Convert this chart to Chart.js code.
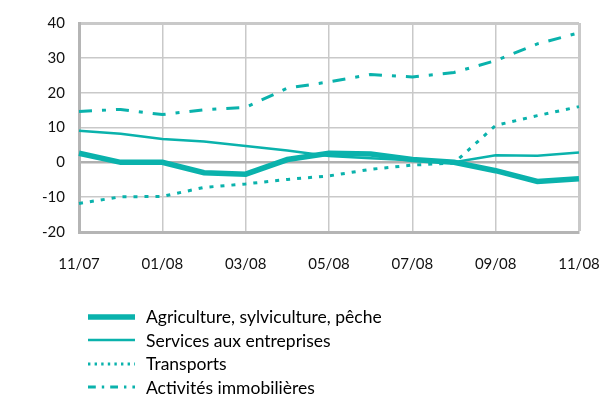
<!DOCTYPE html>
<html>
<head>
<meta charset="utf-8">
<script src="https://cdn.jsdelivr.net/npm/chart.js@4"></script>
<style>
  body { margin: 0; background: #fff; }
  #wrap { position: relative; width: 601px; height: 396px; }
  #legend { position: absolute; left: 88px; top: 305px; font-family: Lato, "DejaVu Sans", sans-serif; font-size: 17.5px; color: #000; }
  .item { height: 23.5px; display: flex; align-items: center; }
  .item svg { width: 47px; height: 10px; margin-right: 11px; }
</style>
</head>
<body>
<div id="wrap">
  <canvas id="chart" width="601" height="396"></canvas>
  <div id="legend"></div>
</div>
<script>
// monthly, 11/07 .. 11/08
const months = ['11/07', '12/07', '01/08', '02/08', '03/08', '04/08', '05/08', '06/08', '07/08', '08/08', '09/08', '10/08', '11/08'];
const agriculture = [2.6, 0, 0, -3, -3.4, 0.8, 2.6, 2.4, 0.8, 0, -2.4, -5.5, -4.7];
const services = [9.1, 8.2, 6.7, 6, 4.7, 3.4, 1.8, 1.2, 0.6, 0, 2, 1.9, 2.8];
const transports = [-11.8, -9.9, -9.8, -7.2, -6.2, -4.9, -3.9, -2, -0.8, -0.2, 10.6, 13.4, 16];
const immobilier = [14.6, 15.2, 13.7, 15.1, 15.8, 21.3, 23.1, 25.2, 24.5, 25.8, 29.2, 34, 37.2];

const teal = '#0ab2ac';
const series = [
  { label: 'Agriculture, sylviculture, pêche', data: agriculture, width: 5.5, dash: [] },
  { label: 'Services aux entreprises', data: services, width: 2.5, dash: [] },
  { label: 'Transports', data: transports, width: 3, dash: [4, 7] },
  { label: 'Activités immobilières', data: immobilier, width: 3, dash: [13, 10, 4, 10] }
];

new Chart(document.getElementById('chart'), {
  type: 'line',
  data: {
    labels: months,
    datasets: series.map(s => ({
      label: s.label,
      data: s.data,
      borderColor: teal,
      borderWidth: s.width,
      borderDash: s.dash,
      pointRadius: 0,
      tension: 0,
      fill: false
    }))
  },
  options: {
    responsive: false,
    animation: false,
    layout: { padding: { top: 22, right: 22, left: 0, bottom: 0 } },
    plugins: { legend: { display: false }, tooltip: { enabled: false } },
    scales: {
      x: {
        afterFit: scale => {
          scale.height = 396 - 232;
          scale.paddingRight = 0;
          scale.paddingLeft = 0;
        },
        grid: {
          drawTicks: false,
          color: ctx => ctx.index % 2 === 0 ? '#c9c9c9' : 'rgba(0,0,0,0)',
          lineWidth: ctx => ctx.index === months.length - 1 ? 3 : 1.5
        },
        border: { color: '#b5b5b5', width: 3 },
        ticks: {
          autoSkip: false,
          maxRotation: 0,
          padding: 23,
          color: '#111',
          font: { family: 'Lato', size: 15 },
          callback: (v, i) => i % 2 === 0 ? months[i] : ''
        }
      },
      y: {
        min: -20,
        max: 40,
        afterFit: scale => { scale.width = 79; },
        grid: {
          drawTicks: false,
          color: ctx => ctx.tick.value === 0 ? '#b0b0b0' : '#c9c9c9',
          lineWidth: ctx => ctx.tick.value === 0 ? 2.5 : (ctx.tick.value === 40 ? 3 : 1.5)
        },
        border: { color: '#b5b5b5', width: 3 },
        ticks: {
          stepSize: 10,
          padding: 14,
          color: '#111',
          font: { family: 'Lato', size: 15 }
        }
      }
    }
  }
});

// legend
const legend = document.getElementById('legend');
series.forEach(s => {
  const row = document.createElement('div');
  row.className = 'item';
  row.innerHTML = '<svg viewBox="0 0 47 10"><line x1="0" y1="5" x2="47" y2="5" stroke="' + teal +
    '" stroke-width="' + s.width + '" stroke-dasharray="' + (s.dash.length ? s.dash.map(d => d * 0.6).join(' ') : 'none') + '"/></svg>';
  const span = document.createElement('span');
  span.textContent = s.label;
  row.appendChild(span);
  legend.appendChild(row);
});
</script>
</body>
</html>
